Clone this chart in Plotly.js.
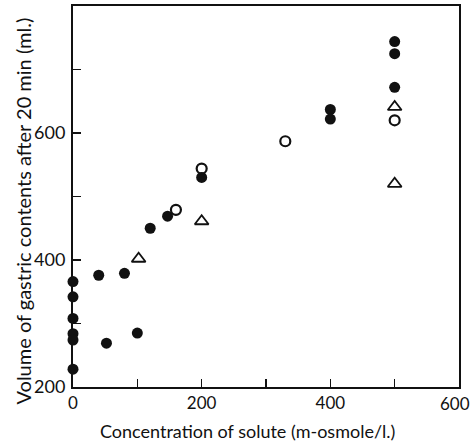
<!DOCTYPE html>
<html>
<head>
<meta charset="utf-8">
<script src="https://cdn.plot.ly/plotly-3.0.1.min.js"></script>
<style>
  html, body { margin: 0; padding: 0; background: #fff; }
  #chart { width: 472px; height: 441px; }
</style>
</head>
<body>
<div id="chart"></div>
<script>
// Volume of gastric contents after 20 min versus solute concentration
const filledX = [0, 0, 0, 0, 0, 0, 40, 52, 80, 100, 120, 147, 200, 400, 400, 500, 500, 500];
const filledY = [366, 342, 308, 284, 274, 228, 376, 269, 379, 285, 450, 469, 530, 637, 622, 744, 725, 672];

const openX = [160, 200, 330, 500];
const openY = [479, 544, 587, 620];

const triX = [102, 200, 500, 500];
const triY = [402, 461, 641, 520];

const xTickVals = [0, 200, 400];
const xEndVal = 600;          // right end of the x axis, labelled separately
const yTickVals = [200, 400, 600];

const xTitle = 'Concentration of solute (m-osmole/l.)';
const yTitle = 'Volume of gastric contents after 20 min (ml.)';

const FONT = 'Lato, "DejaVu Sans", sans-serif';
const INK = '#111';

const traces = [
  {
    x: filledX, y: filledY, type: 'scatter', mode: 'markers', name: 'filled',
    marker: { symbol: 'circle', size: 11, color: INK, line: { width: 0 } },
    cliponaxis: false
  },
  {
    x: openX, y: openY, type: 'scatter', mode: 'markers', name: 'open',
    marker: { symbol: 'circle-open', size: 10, color: INK, line: { width: 2.2, color: INK } },
    cliponaxis: false
  },
  {
    x: triX, y: triY, type: 'scatter', mode: 'markers', name: 'triangle',
    marker: { symbol: 'triangle-up-open', size: 12, color: INK, line: { width: 1.8, color: INK } },
    cliponaxis: false
  }
];

const axisCommon = {
  showgrid: false,
  zeroline: false,
  showline: true,
  mirror: true,
  linecolor: INK,
  linewidth: 2,
  ticks: 'inside',
  ticklen: 8,
  tickwidth: 1.6,
  tickcolor: INK,
  fixedrange: true
};

const layout = {
  width: 472,
  height: 441,
  margin: { l: 73, r: 13, t: 6, b: 54 },
  paper_bgcolor: '#fff',
  plot_bgcolor: '#fff',
  showlegend: false,
  xaxis: Object.assign({}, axisCommon, {
    range: [0, xEndVal],
    tickmode: 'array',
    tickvals: xTickVals,
    ticktext: xTickVals.map(String),
    tickfont: { family: FONT, size: 17, color: INK },
    minor: { tickvals: [100, 300, 500], ticks: 'inside', ticklen: 8, tickwidth: 1.6, tickcolor: INK }
  }),
  yaxis: Object.assign({}, axisCommon, {
    range: [200, 800],
    tickmode: 'array',
    tickvals: yTickVals,
    ticktext: yTickVals.map(String),
    tickfont: { family: FONT, size: 18, color: INK },
    ticklabelstandoff: 2,
    minor: { tickvals: [300, 500, 700], ticks: 'inside', ticklen: 8, tickwidth: 1.6, tickcolor: INK }
  }),
  annotations: [
    {
      // label for the axis end; nudged left so it stays on the canvas
      text: String(xEndVal), xref: 'x', yref: 'paper', x: xEndVal, y: 0,
      xanchor: 'center', yanchor: 'middle', xshift: -4, yshift: -16,
      showarrow: false, font: { family: FONT, size: 17, color: INK }
    },
    {
      text: xTitle, xref: 'paper', yref: 'paper', x: 0, y: 0,
      xanchor: 'center', yanchor: 'middle', yshift: -44,
      showarrow: false, font: { family: FONT, size: 18, color: INK }
    },
    {
      text: yTitle, xref: 'paper', yref: 'paper', x: 0, y: 0.5,
      xanchor: 'center', yanchor: 'middle', xshift: -51, yshift: -15,
      textangle: -90,
      showarrow: false, font: { family: FONT, size: 20, color: INK }
    }
  ]
};

// x-title centred a little left of the plot centre
layout.annotations[1].x = (247 - 73) / (472 - 73 - 13);

Plotly.newPlot('chart', traces, layout, { displayModeBar: false, staticPlot: true });
</script>
</body>
</html>
